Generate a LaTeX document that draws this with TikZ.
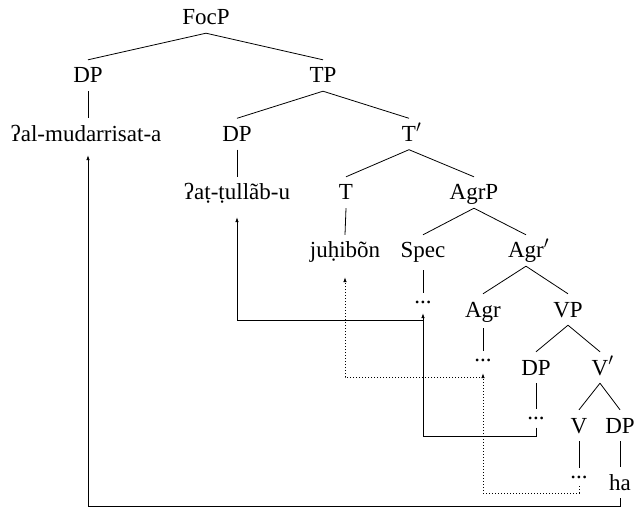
\documentclass[tikz,border=0pt]{standalone}
\usepackage{fontspec}
\setmainfont{Liberation Serif}[Ligatures=TeX]
\newfontfamily\treefont{Liberation Serif}
\usetikzlibrary{arrows.meta}
\begin{document}
\begin{tikzpicture}[x=1pt,y=-1pt,
  every node/.style={font=\treefont\fontsize{23}{27}\selectfont},
  lbl/.style={anchor=base, inner xsep=0pt, inner ysep=8pt, text height=15pt, text depth=0pt},
  dotsnode/.style={anchor=base, inner xsep=0pt, inner ysep=8pt, text height=2pt, text depth=0pt},
  branch/.style={line width=0.8pt},
  mv/.style={line width=0.8pt, -{Latex[length=5pt,width=3.6pt]}},
  mvdot/.style={mv, dash pattern=on 0.9pt off 2.1pt},
]
\useasboundingbox (0,0) rectangle (635,508);

% tree labels
\node[lbl] (focp)   at (206,25)    {FocP};
\node[lbl] (dp1)    at (88,83)     {DP};
\node[lbl] (tp)     at (323,83)    {TP};
\node[lbl] (mud)    at (86,141.5)  {ʔal-mudarrisat-a};
\node[lbl] (dp2)    at (237,141.5) {DP};
\node[lbl] (tbar)   at (409,141.5) {T\rlap{$'$}};
\node[lbl] (tull)   at (237,200)   {ʔaṭ-ṭullãb-u};
\node[lbl] (t)      at (346,200)   {T};
\node[lbl] (agrp)   at (474,200)   {AgrP};
\node[lbl] (juh)    at (345,258)   {juḥibõn};
\node[lbl] (spec)   at (423,258)   {Spec};
\node[lbl] (agrbar) at (526,258)   {Agr\rlap{$'$}};
\node[dotsnode] (specdots) at (423,303) {...};
\node[lbl] (agr)    at (483,317)   {Agr};
\node[lbl] (vp)     at (568,317)   {VP};
\node[dotsnode] (agrdots) at (483,361) {...};
\node[lbl] (dp3)    at (536,375)   {DP};
\node[lbl] (vbar)   at (600,375)   {V\rlap{$'$}};
\node[dotsnode] (dp3dots) at (536,419.5) {...};
\node[lbl] (v)      at (579,433)   {V};
\node[lbl] (dp4)    at (620,433)   {DP};
\node[dotsnode] (vdots) at (579,478) {...};
\node[lbl] (ha)     at (620,490)   {ha};

% tree branches
\draw[branch] (focp.south) -- (dp1.north);
\draw[branch] (focp.south) -- (tp.north);
\draw[branch] (dp1.south) -- (dp1.south |- mud.north);
\draw[branch] (tp.south) -- (dp2.north);
\draw[branch] (tp.south) -- (tbar.north);
\draw[branch] (dp2.south) -- (tull.north);
\draw[branch] (tbar.south) -- (t.north);
\draw[branch] (tbar.south) -- (agrp.north);
\draw[branch] (t.south) -- (juh.north);
\draw[branch] (agrp.south) -- (spec.north);
\draw[branch] (agrp.south) -- (agrbar.north);
\draw[branch, shorten <=4pt] (spec.south) -- (specdots.north);
\draw[branch] (agrbar.south) -- (agr.north);
\draw[branch] (agrbar.south) -- (vp.north);
\draw[branch, shorten <=3pt] (agr.south) -- (agrdots.north);
\draw[branch] (vp.south) -- (dp3.north);
\draw[branch] (vp.south) -- (vbar.north);
\draw[branch] (dp3.south) -- (dp3dots.north);
\draw[branch] (vbar.south) -- (v.north);
\draw[branch] (vbar.south) -- (dp4.north);
\draw[branch] (v.south) -- (vdots.north);
\draw[branch] (dp4.south) -- (ha.north);

% levels of the movement paths
\coordinate (lvlbottom) at (0,506.5);
\coordinate (lvlsolid)  at (0,436);
\coordinate (lvlspec)   at (0,320);
\coordinate (lvldotted) at (0,493);
\coordinate (lvlagr)    at (0,377);

% movement paths
\draw[mv, shorten >=5.5pt] (ha.south) -- (ha.south |- lvlbottom) -| (dp1.south |- mud.south);
\draw[mv, shorten >=2pt] (dp3dots.south) -- (dp3dots.south |- lvlsolid) -| (specdots.south);
\draw[mv, shorten >=9pt] (specdots.south |- lvlspec) -| (tull.south);
\draw[mvdot, shorten >=4pt] (vdots.south) -- (vdots.south |- lvldotted) -| (agrdots.south);
\draw[mvdot, shorten >=11pt] (agrdots.south |- lvlagr) -| (juh.south);
\end{tikzpicture}
\end{document}
